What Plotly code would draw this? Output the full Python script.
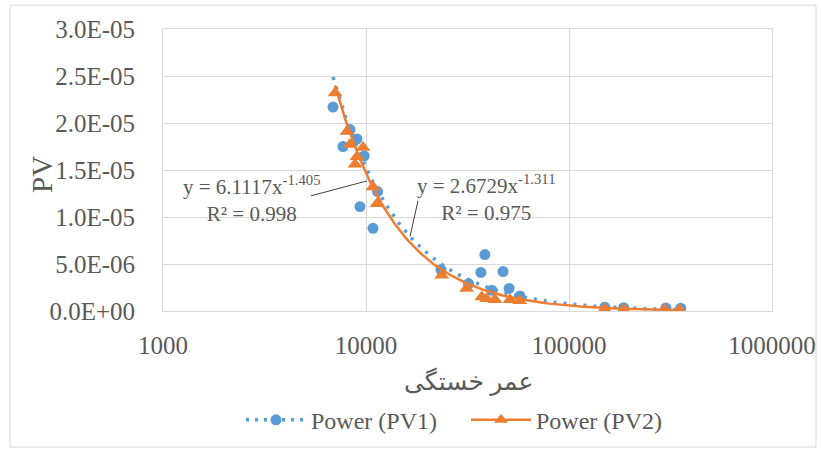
import numpy as np
import plotly.graph_objects as go

# Fatigue life (cycles) and PV values for the two series
life_pv1 = [6880, 7700, 8340, 9030, 9340, 9800, 10820, 11400, 23400, 32000,
            36800, 38500, 41700, 47300, 50700, 57300, 150000, 186000, 300000, 355000]
pv1 = [2.17e-5, 1.75e-5, 1.93e-5, 1.83e-5, 1.11e-5, 1.65e-5, 8.8e-6, 1.27e-5, 4.4e-6, 2.9e-6,
       4.1e-6, 6.0e-6, 2.2e-6, 4.2e-6, 2.4e-6, 1.6e-6, 4.0e-7, 3.5e-7, 3.2e-7, 3.0e-7]

life_pv2 = [7040, 8060, 8340, 9670, 9030, 8830, 10830, 11330, 23600, 31300,
            37150, 39300, 43200, 51200, 57200, 150000, 186000, 295000, 350000]
pv2 = [2.32e-5, 1.91e-5, 1.77e-5, 1.74e-5, 1.64e-5, 1.56e-5, 1.32e-5, 1.14e-5, 3.8e-6, 2.4e-6,
       1.5e-6, 1.3e-6, 1.2e-6, 1.2e-6, 1.1e-6, 2.0e-7, 1.5e-7, 1.3e-7, 1.2e-7]

# Power-law trendline coefficients y = a * x^b and R²
fit_pv1 = (2.6729, -1.311, 0.975)
fit_pv2 = (6.1117, -1.405, 0.998)

x_ticks = [1000, 10000, 100000, 1000000]
x_ticktext = ["1000", "10000", "100000", "1000000"]
y_ticks = [0, 5e-6, 1e-5, 1.5e-5, 2e-5, 2.5e-5, 3e-5]
y_ticktext = ["0.0E+00", "5.0E-06", "1.0E-05", "1.5E-05", "2.0E-05", "2.5E-05", "3.0E-05"]

BLUE = "#5B9BD5"
ORANGE = "#ED7D31"
GRID = "#D9D9D9"
TXT = "#595959"
FONT = "Liberation Serif, Times New Roman, DejaVu Sans, serif"


def trend(xs, coef):
    a, b, _ = coef
    xx = np.logspace(np.log10(min(xs)), np.log10(max(xs)), 200)
    return xx, a * xx ** b


fig = go.Figure()

fig.add_trace(go.Scatter(x=life_pv1, y=pv1, mode="markers", showlegend=False,
                         marker=dict(color=BLUE, size=11, symbol="circle")))
tx1, ty1 = trend(life_pv1, fit_pv1)
fig.add_trace(go.Scatter(x=tx1, y=ty1, mode="lines", showlegend=False,
                         line=dict(color=BLUE, width=3.5, dash="3px,7px")))

fig.add_trace(go.Scatter(x=life_pv2, y=pv2, mode="markers", showlegend=False,
                         marker=dict(color=ORANGE, size=13, symbol="triangle-up")))
tx2, ty2 = trend(life_pv2, fit_pv2)
fig.add_trace(go.Scatter(x=tx2, y=ty2, mode="lines", showlegend=False,
                         line=dict(color=ORANGE, width=2.5)))

# Legend entries (line + marker)
fig.add_trace(go.Scatter(x=[None], y=[None], mode="lines+markers", name="Power (PV1)",
                         line=dict(color=BLUE, width=3.5, dash="3px,6px"),
                         marker=dict(color=BLUE, size=11, symbol="circle")))
fig.add_trace(go.Scatter(x=[None], y=[None], mode="lines+markers", name="Power (PV2)",
                         line=dict(color=ORANGE, width=2.5),
                         marker=dict(color=ORANGE, size=12, symbol="triangle-up")))

L, R, T, B = 163, 772, 29, 313
W, H = 821, 455


def px(x):
    return (x - L) / (R - L)


def py(y):
    return (B - y) / (B - T)


def eq_text(coef):
    a, b, r2 = coef
    return f"y = {a:.4f}x<sup>{b:.3f}</sup><br>R² = {r2:.3f}"


def note(x, y, text, size, angle=0):
    return dict(x=px(x), y=py(y), xref="paper", yref="paper", text=text,
                xanchor="center", yanchor="middle", textangle=angle,
                showarrow=False, align="center",
                font=dict(family=FONT, size=size, color=TXT))


annotations = [
    note(252, 200, eq_text(fit_pv2), 21),
    note(486, 199, eq_text(fit_pv1), 21),
    note(42, 176, "PV", 29, -90),
    note(468, 384, "عمر خستگی", 25),
]

shapes = [
    # leader lines from the equations to the trendlines
    dict(type="line", xref="paper", yref="paper", x0=px(311), y0=py(197), x1=px(367), y1=py(182),
         line=dict(color="#404040", width=1)),
    dict(type="line", xref="paper", yref="paper", x0=px(418), y0=py(202), x1=px(410), y1=py(238),
         line=dict(color="#404040", width=1)),
    # chart border
    dict(type="rect", xref="paper", yref="paper", x0=px(10), y0=py(5), x1=px(816), y1=py(450),
         line=dict(color=GRID, width=1), layer="below"),
]

fig.update_layout(
    width=W, height=H,
    margin=dict(l=L, r=W - R, t=T, b=H - B),
    paper_bgcolor="white", plot_bgcolor="white",
    font=dict(family=FONT, size=25, color=TXT),
    xaxis=dict(type="log", range=[3, 6], tickvals=x_ticks, ticktext=x_ticktext,
               showgrid=True, gridcolor=GRID, gridwidth=1, zeroline=False,
               showline=True, linecolor=GRID, mirror=True, ticks="", automargin=False,
               ticklabelstandoff=12, tickfont=dict(family=FONT, size=25, color=TXT)),
    yaxis=dict(range=[0, 3e-5], tickvals=y_ticks, ticktext=y_ticktext,
               showgrid=True, gridcolor=GRID, gridwidth=1, zeroline=False,
               showline=True, linecolor=GRID, mirror=True, ticks="", automargin=False,
               ticklabelstandoff=22, tickfont=dict(family=FONT, size=25, color=TXT)),
    legend=dict(orientation="h", x=px(466), xanchor="center", y=py(423), yanchor="middle",
                font=dict(family=FONT, size=24, color=TXT), itemwidth=60,
                entrywidth=150, entrywidthmode="pixels",
                bgcolor="rgba(0,0,0,0)"),
    annotations=annotations,
    shapes=shapes,
    showlegend=True,
)

fig.write_html("out.html")
